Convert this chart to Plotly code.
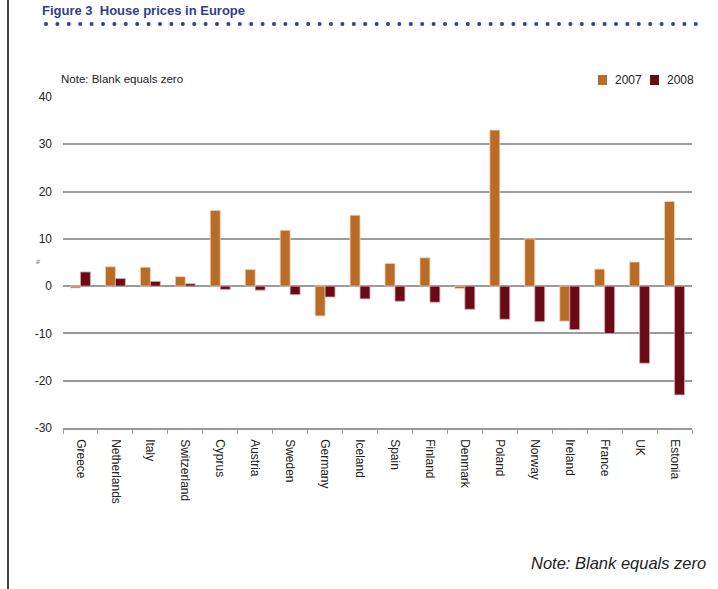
import plotly.graph_objects as go

countries = ["Greece", "Netherlands", "Italy", "Switzerland", "Cyprus", "Austria",
             "Sweden", "Germany", "Iceland", "Spain", "Finland", "Denmark",
             "Poland", "Norway", "Ireland", "France", "UK", "Estonia"]
y2007 = [-0.4, 4.1, 4.0, 2.0, 16.0, 3.5, 11.8, -6.3, 15.0, 4.8, 6.0, -0.5,
         33.0, 10.0, -7.4, 3.6, 5.1, 17.9]
y2008 = [3.0, 1.6, 1.0, 0.5, -0.7, -0.85, -1.8, -2.3, -2.7, -3.2, -3.4, -4.9,
         -7.0, -7.5, -9.2, -10.0, -16.3, -23.0]
series_names = ["2007", "2008"]
series_colors = ["#B96C28", "#6B0A17"]
y_ticks = [-30, -20, -10, 0, 10, 20, 30, 40]
y_tick_text = ["-30", "-20", "-10", "0", "10", "20", "30", "40"]

W, H = 718, 589
L, R, T, B = 63, 692, 97, 428
FONT = "Liberation Sans, Arial, sans-serif"

def px(x):
    return (x - L) / (R - L)

def py(y):
    return (B - y) / (B - T)

fig = go.Figure()
fig.add_trace(go.Bar(x=countries, y=y2007, name=series_names[0],
                     marker=dict(color=series_colors[0], line=dict(color="#F2D2B4", width=0.8))))
fig.add_trace(go.Bar(x=countries, y=y2008, name=series_names[1],
                     marker=dict(color=series_colors[1], line=dict(color="#D9A9AF", width=0.8))))

shapes = []
annotations = []
# left vertical frame line
shapes.append(dict(type="line", xref="paper", yref="paper",
                   x0=px(8), x1=px(8), y0=py(0), y1=py(H),
                   line=dict(color="#444444", width=2)))
# dotted rule under the title
xd = 46.0
while xd <= 700:
    shapes.append(dict(type="circle", xref="paper", yref="paper",
                       x0=px(xd - 2), x1=px(xd + 2), y0=py(26), y1=py(22),
                       fillcolor="#2E3F8F", line=dict(width=0)))
    xd += 11.4

# compact legend (swatch + label) drawn at the top right
for i, (name, col) in enumerate(zip(series_names, series_colors)):
    x0 = 598 + 52 * i
    shapes.append(dict(type="rect", xref="paper", yref="paper",
                       x0=px(x0), x1=px(x0 + 9), y0=py(85), y1=py(75),
                       fillcolor=col, line=dict(width=0)))
    annotations.append(dict(text=name, xref="paper", yref="paper",
                            x=px(x0 + 15), y=py(80), xanchor="left", yanchor="middle",
                            showarrow=False,
                            font=dict(family=FONT, size=12, color="#222222")))

annotations += [
    dict(text="<b>Figure 3  House prices in Europe</b>", xref="paper", yref="paper",
         x=px(40), y=py(1), xanchor="left", yanchor="top", showarrow=False,
         font=dict(family=FONT, size=13, color="#2E3F8F")),
    dict(text="Note: Blank equals zero", xref="paper", yref="paper",
         x=px(59), y=py(79), xanchor="left", yanchor="middle", showarrow=False,
         font=dict(family=FONT, size=11.5, color="#222222")),
    dict(text="%", xref="paper", yref="paper", textangle=-90,
         x=px(38), y=py(262), xanchor="center", yanchor="middle", showarrow=False,
         font=dict(family=FONT, size=5, color="#222222")),
    dict(text="<i>Note: Blank equals zero</i>", xref="paper", yref="paper",
         x=px(708), y=py(563), xanchor="right", yanchor="middle", showarrow=False,
         font=dict(family=FONT, size=16.5, color="#222222")),
]

fig.update_layout(
    width=W, height=H,
    margin=dict(l=L, r=W - R, t=T, b=H - B, pad=0),
    paper_bgcolor="white", plot_bgcolor="white",
    barmode="group", bargap=0.43, bargroupgap=0,
    font=dict(family=FONT, size=12, color="#222222"),
    showlegend=False,
    shapes=shapes, annotations=annotations,
)
fig.update_yaxes(range=[-30, 40], tickvals=y_ticks, ticktext=y_tick_text, showgrid=True,
                 gridcolor="#9a9a9a", gridwidth=1.5, zeroline=True,
                 zerolinecolor="#9a9a9a", zerolinewidth=1.5, showline=False,
                 ticks="", ticklabelstandoff=10,
                 tickfont=dict(family=FONT, size=12, color="#222222"))
fig.update_xaxes(showline=True, linecolor="#9a9a9a", linewidth=1.5,
                 ticks="outside", tickson="boundaries", ticklen=4,
                 tickcolor="#9a9a9a", tickangle=90, ticklabelstandoff=7,
                 tickfont=dict(family=FONT, size=12, color="#222222"))

fig.write_html("out.html")
